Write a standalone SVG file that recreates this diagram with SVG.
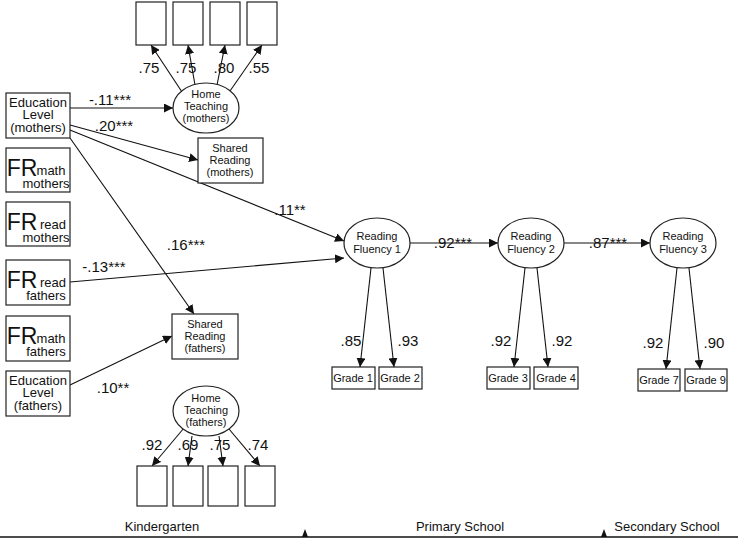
<svg xmlns="http://www.w3.org/2000/svg" width="738" height="544" viewBox="0 0 738 544">
<defs><marker id="a" viewBox="0 0 10 10" refX="10" refY="5" markerWidth="9" markerHeight="9" markerUnits="userSpaceOnUse" orient="auto"><path d="M0,0L10,5L0,10z" fill="#111"/></marker></defs>
<style>
rect,ellipse{fill:#fff;stroke:#222;stroke-width:1.2}
text{font-family:"Liberation Sans",Arial,sans-serif;fill:#111;text-anchor:middle}
.s{font-size:11px}.m{font-size:13px}.l{font-size:15px}.b{font-size:23px}
#c line{stroke:#111;stroke-width:1.1;marker-end:url(#a)}
</style>
<rect width="738" height="544" fill="#fff" style="stroke:none"/>
<g id="c">
<line x1="182" y1="92" x2="151" y2="45"/><line x1="195" y1="85" x2="188" y2="45"/><line x1="217" y1="85" x2="225" y2="45"/><line x1="230" y1="91" x2="262" y2="45"/>
<line x1="70" y1="108" x2="173" y2="108"/>
<line x1="70" y1="125" x2="198" y2="160"/>
<line x1="70" y1="130" x2="344" y2="241"/>
<line x1="70" y1="138" x2="194" y2="314"/>
<line x1="70" y1="282" x2="344" y2="258"/>
<line x1="70" y1="385" x2="172" y2="336"/>
<line x1="410" y1="243" x2="498" y2="243"/>
<line x1="564" y1="243" x2="650" y2="243"/>
<line x1="371" y1="268" x2="360" y2="367"/><line x1="383" y1="268" x2="394" y2="367"/>
<line x1="525" y1="268" x2="514" y2="367"/><line x1="537" y1="268" x2="548" y2="367"/>
<line x1="677" y1="268" x2="666" y2="369"/><line x1="689" y1="268" x2="700" y2="369"/>
<line x1="184" y1="428" x2="152" y2="466"/><line x1="192" y1="436" x2="188" y2="466"/><line x1="219" y1="436" x2="223" y2="466"/><line x1="229" y1="429" x2="260" y2="466"/>
</g>
<g id="top"><rect x="136" y="2" width="30" height="43"/><rect x="173" y="2" width="30" height="43"/><rect x="210" y="2" width="30" height="43"/><rect x="247" y="2" width="30" height="43"/></g>
<g id="bot"><rect x="137" y="466" width="30" height="40"/><rect x="173" y="466" width="30" height="40"/><rect x="208" y="466" width="30" height="40"/><rect x="245" y="466" width="30" height="40"/></g>
<g id="htm"><ellipse cx="206" cy="108" rx="33" ry="25"/><text class="s" x="206" y="98">Home</text><text class="s" x="206" y="110">Teaching</text><text class="s" x="206" y="122">(mothers)</text></g>
<g id="htf"><ellipse cx="206" cy="411" rx="33" ry="25"/><text class="s" x="206" y="402">Home</text><text class="s" x="206" y="414">Teaching</text><text class="s" x="206" y="426">(fathers)</text></g>
<g id="srm"><rect x="198" y="138" width="65" height="45"/><text class="s" x="230" y="152">Shared</text><text class="s" x="230" y="164">Reading</text><text class="s" x="230" y="176">(mothers)</text></g>
<g id="srf"><rect x="172" y="314" width="66" height="45"/><text class="s" x="205" y="328">Shared</text><text class="s" x="205" y="340">Reading</text><text class="s" x="205" y="352">(fathers)</text></g>
<g id="em"><rect x="6" y="93" width="64" height="45"/><text class="m" x="38" y="107">Education</text><text class="m" x="38" y="119">Level</text><text class="m" x="38" y="132">(mothers)</text></g>
<g id="frmm"><rect x="6" y="148" width="64" height="44"/><text class="b" x="22" y="176">FR</text><text class="m" x="51" y="175">math</text><text class="m" x="46" y="188">mothers</text></g>
<g id="frrm"><rect x="6" y="202" width="64" height="44"/><text class="b" x="22" y="230">FR</text><text class="m" x="53" y="229">read</text><text class="m" x="46" y="242">mothers</text></g>
<g id="frrf"><rect x="6" y="260" width="64" height="45"/><text class="b" x="22" y="288">FR</text><text class="m" x="53" y="287">read</text><text class="m" x="46" y="300">fathers</text></g>
<g id="frmf"><rect x="6" y="316" width="64" height="45"/><text class="b" x="22" y="344">FR</text><text class="m" x="51" y="343">math</text><text class="m" x="46" y="356">fathers</text></g>
<g id="ef"><rect x="6" y="371" width="64" height="45"/><text class="m" x="38" y="385">Education</text><text class="m" x="38" y="397">Level</text><text class="m" x="38" y="410">(fathers)</text></g>
<g id="rf1"><ellipse cx="377" cy="243" rx="33" ry="25"/><text class="s" x="377" y="240">Reading</text><text class="s" x="377" y="253">Fluency 1</text></g>
<g id="rf2"><ellipse cx="531" cy="243" rx="33" ry="25"/><text class="s" x="531" y="240">Reading</text><text class="s" x="531" y="253">Fluency 2</text></g>
<g id="rf3"><ellipse cx="683" cy="243" rx="33" ry="25"/><text class="s" x="683" y="240">Reading</text><text class="s" x="683" y="253">Fluency 3</text></g>
<g id="g"><rect x="332" y="367" width="43" height="22"/><text class="s" x="353" y="382">Grade 1</text>
<rect x="379" y="367" width="43" height="22"/><text class="s" x="400" y="382">Grade 2</text>
<rect x="487" y="367" width="43" height="22"/><text class="s" x="508" y="382">Grade 3</text>
<rect x="534" y="367" width="44" height="22"/><text class="s" x="556" y="382">Grade 4</text>
<rect x="638" y="369" width="42" height="22"/><text class="s" x="659" y="384">Grade 7</text>
<rect x="685" y="369" width="42" height="22"/><text class="s" x="706" y="384">Grade 9</text></g>
<g id="lab">
<text class="l" x="149" y="73">.75</text><text class="l" x="186" y="73">.75</text><text class="l" x="224" y="73">.80</text><text class="l" x="259" y="73">.55</text>
<text class="l" x="110" y="105">-.11***</text><text class="l" x="114" y="131">.20***</text><text class="l" x="290" y="215">.11**</text><text class="l" x="186" y="250">.16***</text>
<text class="l" x="104" y="272">-.13***</text><text class="l" x="113" y="393">.10**</text>
<text class="l" x="453" y="248">.92***</text><text class="l" x="608" y="248">.87***</text>
<text class="l" x="351" y="346">.85</text><text class="l" x="408" y="346">.93</text><text class="l" x="501" y="346">.92</text><text class="l" x="562" y="346">.92</text><text class="l" x="653" y="348">.92</text><text class="l" x="714" y="348">.90</text>
<text class="l" x="152" y="450">.92</text><text class="l" x="188" y="450">.69</text><text class="l" x="220" y="450">.75</text><text class="l" x="258" y="450">.74</text>
</g>
<g id="tl"><line x1="0" y1="537" x2="738" y2="537" stroke="#111" stroke-width="1.3"/>
<path d="M302,537L305,529L308,537zM601,537L604,529L607,537z" fill="#111"/>
<text class="m" x="162" y="531">Kindergarten</text><text class="m" x="460" y="531">Primary School</text><text class="m" x="667" y="531">Secondary School</text></g>
</svg>
